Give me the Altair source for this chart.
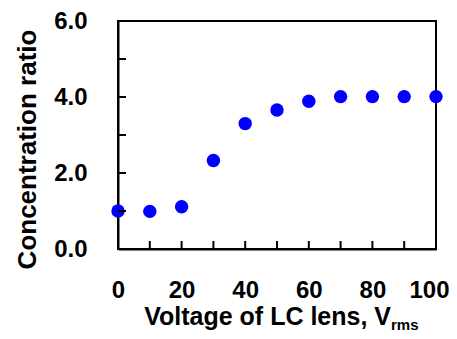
import altair as alt
import pandas as pd

voltage = [0, 10, 20, 30, 40, 50, 60, 70, 80, 90, 100]
ratio = [1.0, 0.99, 1.11, 2.33, 3.30, 3.66, 3.89, 4.01, 4.01, 4.01, 4.01]
x_ticks = [10, 20, 30, 40, 50, 60, 70, 80, 90]
y_ticks = [1, 2, 3, 4, 5]
x_labels = [0, 20, 40, 60, 80, 100]
y_labels = [0, 2, 4, 6]

FONT = "Liberation Sans"
W, H = 318, 228

df = pd.DataFrame({"v": voltage, "r": ratio})
xt = pd.DataFrame({"v": x_ticks})
yt = pd.DataFrame({"r": y_ticks})

xscale = alt.Scale(domain=[0, 100], nice=False, zero=False)
yscale = alt.Scale(domain=[0, 6], nice=False)

points = alt.Chart(df).mark_point(
    filled=True, color="#0000FF", size=180, opacity=1
).encode(
    x=alt.X("v:Q", scale=xscale, axis=alt.Axis(
        values=x_labels, title=None, ticks=False, grid=False,
        domainColor="#000000", domainWidth=2, labelFont=FONT, labelFontSize=24,
        labelFontWeight="bold", labelColor="black", labelPadding=29,
        labelFlush=False,
        labelOffset=alt.condition("datum.value == 100", alt.value(-7), alt.value(0)))),
    y=alt.Y("r:Q", scale=yscale, axis=alt.Axis(
        values=y_labels, format=".1f", title="Concentration ratio",
        ticks=False, grid=False, domainColor="#000000", domainWidth=2,
        labelFont=FONT, labelFontSize=24, labelFontWeight="bold",
        labelColor="black", labelPadding=31,
        titleFont=FONT, titleFontSize=26, titleFontWeight="bold",
        titleColor="black", titleX=-83, titleY=128, titleAngle=270,
        titleBaseline="alphabetic", titleAlign="center")),
)

xtick_layer = alt.Chart(xt).mark_rule(color="#000000", strokeWidth=2).encode(
    x=alt.X("v:Q", scale=xscale), y=alt.value(H - 8), y2=alt.value(H)
)
ytick_layer = alt.Chart(yt).mark_rule(color="#000000", strokeWidth=2).encode(
    y=alt.Y("r:Q", scale=yscale), x=alt.value(0), x2=alt.value(8)
)

title_main = alt.Chart(pd.DataFrame({"t": ["Voltage of LC lens, V"]})).mark_text(
    font=FONT, fontSize=25, fontWeight="bold", color="black", align="right",
    baseline="alphabetic"
).encode(text="t:N", x=alt.value(273), y=alt.value(304))

title_sub = alt.Chart(pd.DataFrame({"t": ["rms"]})).mark_text(
    font=FONT, fontSize=15, fontWeight="bold", color="black", align="left",
    baseline="alphabetic"
).encode(text="t:N", x=alt.value(273), y=alt.value(309))

chart = alt.layer(points, xtick_layer, ytick_layer, title_main, title_sub).properties(
    width=W, height=H,
    autosize=alt.AutoSizeParams(type="none"),
    padding={"left": 110, "top": 13, "right": 13, "bottom": 82},
).configure_view(stroke="#000000", strokeWidth=2)

chart.save("out.html", embed_options={"renderer": "svg", "actions": False})
